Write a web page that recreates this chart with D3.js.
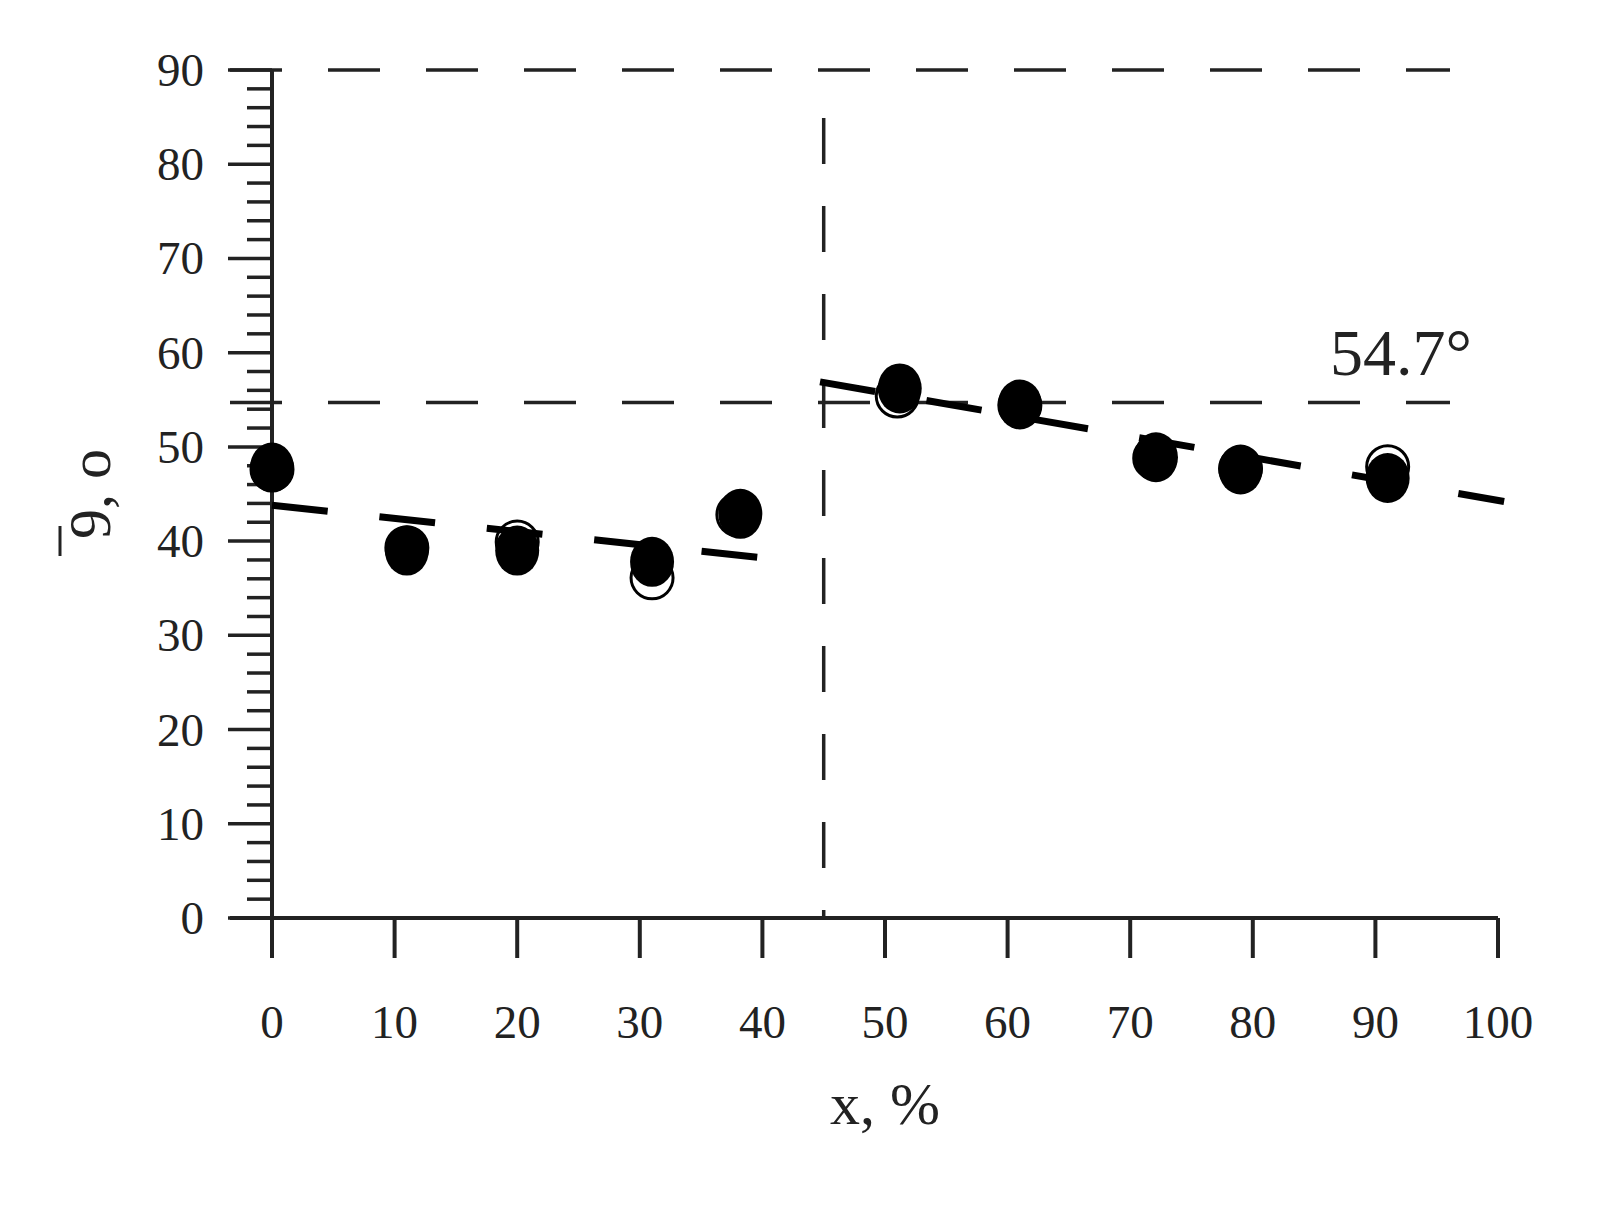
<!DOCTYPE html>
<html><head><meta charset="utf-8">
<script src="https://cdn.jsdelivr.net/npm/d3@7"></script>
<style>body{margin:0;background:#fff}</style>
</head><body><div class="viewport"></div>
<script>
var xTicks = [0, 10, 20, 30, 40, 50, 60, 70, 80, 90, 100];
var yTicks = [0, 10, 20, 30, 40, 50, 60, 70, 80, 90];
var openX = [0, 11, 20, 31, 38, 51, 61, 72, 79, 91];
var openY = [47.6, 39.3, 39.9, 36.1, 42.8, 55.4, 54.4, 48.8, 47.7, 47.9];
var filledX = [0, 11, 20, 31, 38.2, 51.2, 61, 72.1, 79, 91];
var filledY = [47.8, 39.0, 39.0, 37.8, 42.9, 56.2, 54.5, 48.9, 47.6, 46.7];
var fitLeft = [[0, 43.8], [41.6, 38.0]];
var fitRight = [[44.7, 56.9], [100.5, 44.2]];
var refLevels = [90, 54.7];
var boundaryX = 45;

function letsGo() {
    var svg = d3.select(".viewport").append("svg")
        .attr("width", 1612).attr("height", 1209);

    var x = d3.scaleLinear().domain([0, 100]).range([272, 1498]);
    var y = d3.scaleLinear().domain([0, 90]).range([918, 70]);
    var serif = "'Liberation Serif', 'DejaVu Serif', serif";
    var ink = "#222";

    // reference dashed lines
    refLevels.forEach(function (v) {
        svg.append("line")
            .attr("x1", 230).attr("x2", 1450)
            .attr("y1", y(v)).attr("y2", y(v))
            .attr("stroke", ink).attr("stroke-width", 3.5)
            .attr("stroke-dasharray", "52,46");
    });
    svg.append("line")
        .attr("x1", x(boundaryX)).attr("x2", x(boundaryX))
        .attr("y1", 118).attr("y2", 918)
        .attr("stroke", ink).attr("stroke-width", 3.5)
        .attr("stroke-dasharray", "46,42");

    // axes
    svg.append("line").attr("x1", 230).attr("x2", 1498)
        .attr("y1", y(0)).attr("y2", y(0)).attr("stroke", ink).attr("stroke-width", 4);
    svg.append("line").attr("x1", x(0)).attr("x2", x(0))
        .attr("y1", y(90)).attr("y2", y(0) + 40).attr("stroke", ink).attr("stroke-width", 4);

    d3.range(0, 91, 2).forEach(function (v) {
        var major = v % 10 === 0;
        svg.append("line")
            .attr("x1", x(0) - (major ? 44 : 25)).attr("x2", x(0))
            .attr("y1", y(v)).attr("y2", y(v))
            .attr("stroke", ink).attr("stroke-width", 3.5);
    });
    svg.selectAll(".yl").data(yTicks).enter().append("text")
        .attr("x", 204).attr("y", function (d) { return y(d) + 16; })
        .attr("text-anchor", "end").attr("font-family", serif).attr("font-size", 47)
        .attr("fill", ink).text(function (d) { return d; });

    svg.selectAll(".xt").data(xTicks).enter().append("line")
        .attr("x1", function (d) { return x(d); }).attr("x2", function (d) { return x(d); })
        .attr("y1", y(0)).attr("y2", y(0) + 40)
        .attr("stroke", ink).attr("stroke-width", 4);
    svg.selectAll(".xl").data(xTicks).enter().append("text")
        .attr("x", function (d) { return x(d); }).attr("y", 1038)
        .attr("text-anchor", "middle").attr("font-family", serif).attr("font-size", 47)
        .attr("fill", ink).text(function (d) { return d; });

    svg.append("text").attr("x", 885).attr("y", 1124).attr("text-anchor", "middle")
        .attr("font-family", serif).attr("font-size", 60).attr("fill", ink).text("x, %");

    var yl = svg.append("g").attr("transform", "translate(110,494) rotate(-90)");
    yl.append("text").attr("text-anchor", "middle").attr("font-family", serif)
        .attr("font-size", 60).attr("fill", ink).text("9, o");
    yl.append("line").attr("x1", -62).attr("x2", -32).attr("y1", -50).attr("y2", -50)
        .attr("stroke", ink).attr("stroke-width", 3);

    svg.append("text").attr("x", 1472).attr("y", 375).attr("text-anchor", "end")
        .attr("font-family", serif).attr("font-size", 66).attr("fill", ink).text("54.7°");

    // open circles
    svg.selectAll(".op").data(d3.zip(openX, openY)).enter().append("circle")
        .attr("cx", function (d) { return x(d[0]); }).attr("cy", function (d) { return y(d[1]); })
        .attr("r", 21).attr("fill", "#fff").attr("stroke", "#000").attr("stroke-width", 3);

    // fit lines
    var line = d3.line().x(function (d) { return x(d[0]); }).y(function (d) { return y(d[1]); });
    [fitLeft, fitRight].forEach(function (seg) {
        svg.append("path").attr("d", line(seg)).attr("fill", "none")
            .attr("stroke", "#000").attr("stroke-width", 7).attr("stroke-dasharray", "56,52");
    });

    // filled circles
    svg.selectAll(".fl").data(d3.zip(filledX, filledY)).enter().append("ellipse")
        .attr("cx", function (d) { return x(d[0]); }).attr("cy", function (d) { return y(d[1]); })
        .attr("rx", 22).attr("ry", 25).attr("fill", "#000");
}
letsGo();
</script></body></html>
